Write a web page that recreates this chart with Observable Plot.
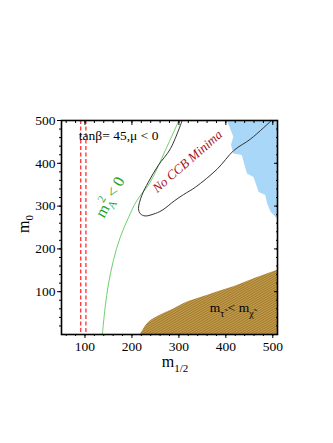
<!DOCTYPE html>
<html><head><meta charset="utf-8">
<script src="https://cdn.jsdelivr.net/npm/d3@7"></script>
<script src="https://cdn.jsdelivr.net/npm/@observablehq/plot@0.6"></script>
<style>body{margin:0;background:#fff}</style>
</head><body><div id="chart"></div>
<script>
// axes
const xDomain = [50, 510];
const yDomain = [0, 500];
const xTicks = [100, 200, 300, 400, 500];
const yTicks = [100, 200, 300, 400, 500];
const xMinor = d3.range(60, 501, 20);
const yMinor = d3.range(20, 501, 20);
// limits (red dashed)
const limitX = [91, 102];
// m_A^2 < 0 boundary (green)
const mA2X = [137, 143, 150, 160.5, 175, 193, 210.5, 239, 271, 300];
const mA2Y = [0, 64, 118, 173, 227, 274, 313, 356, 430, 500];
// No CCB minima contour (black)
const ccbX = [307, 282, 256, 235, 221, 214, 218, 228, 245, 264, 290, 310, 335, 382, 417, 453, 497];
const ccbY = [500, 434, 395, 356, 325, 294, 282, 277, 281, 290, 312, 327, 344, 387, 430, 457, 500];
// blue excluded region (boundary, extends to right edge)
const blueY = [500, 461, 442, 422, 418, 375, 367, 332, 325, 305, 286, 270];
const blueX = [403, 417, 412, 417, 435, 446, 460, 471, 485, 489, 496, 510];
// stau LSP region (brown)
const stauX = [218, 221, 225, 230, 240, 255, 270, 290, 310, 340, 380, 420, 460, 510];
const stauY = [0, 5, 13, 21, 32, 42, 50, 60, 72, 84, 99, 113, 130, 150];

const xMax = xDomain[1], yMin = yDomain[0];
const blue = blueY.map((y, i) => ({y, x1: blueX[i], x2: xMax}));
const stau = stauX.map((x, i) => ({x, y1: yMin, y2: stauY[i]}));
const mA2 = mA2X.map((x, i) => ({x, y: mA2Y[i]}));
const ccb = ccbX.map((x, i) => ({x, y: ccbY[i]}));

const chart = Plot.plot({
  width: 333, height: 443,
  marginLeft: 61, marginRight: 56, marginTop: 120, marginBottom: 109,
  style: {fontFamily: "'Liberation Serif', serif", fontSize: "13.5px", background: "#fff", color: "#000"},
  x: {domain: xDomain, label: null},
  y: {domain: yDomain, label: null},
  marks: [
    Plot.areaX(blue, {y: "y", x1: "x1", x2: "x2", fill: "#a9d7f8"}),
    Plot.areaY(stau, {x: "x", y1: "y1", y2: "y2", fill: "url(#hatch)", curve: "monotone-x"}),
    Plot.ruleX(limitX, {stroke: "#ff1f1f", strokeWidth: 1.2, strokeDasharray: "4,2.5"}),
    Plot.line(mA2, {x: "x", y: "y", stroke: "#6fce6f", strokeWidth: 1, curve: "catmull-rom"}),
    Plot.line(ccb, {x: "x", y: "y", stroke: "#333", strokeWidth: 1, curve: "catmull-rom"}),
    Plot.axisY(yTicks, {anchor: "left", tickSize: 4, tickPadding: 2, label: null}),
    Plot.axisY(yMinor, {anchor: "left", tickSize: 2, text: null, label: null}),
    Plot.axisY(yTicks, {anchor: "right", tickSize: -4, text: null, label: null}),
    Plot.axisY(yMinor, {anchor: "right", tickSize: -2, text: null, label: null}),
    Plot.axisX(xTicks, {anchor: "bottom", tickSize: 4, tickPadding: 3, label: null}),
    Plot.axisX(xMinor, {anchor: "bottom", tickSize: 2, text: null, label: null}),
    Plot.axisX(xTicks, {anchor: "top", tickSize: -4, text: null, label: null}),
    Plot.axisX(xMinor, {anchor: "top", tickSize: -2, text: null, label: null}),
    Plot.frame({stroke: "#000", strokeWidth: 1.6})
  ]
});
document.getElementById("chart").appendChild(chart);

const svg = d3.select(chart);
const defs = svg.insert("defs", ":first-child");
const pat = defs.append("pattern").attr("id", "hatch").attr("patternUnits", "userSpaceOnUse")
  .attr("width", 2).attr("height", 2).attr("patternTransform", "rotate(-30)");
pat.append("rect").attr("width", 2).attr("height", 2).attr("fill", "#c6a04a");
pat.append("rect").attr("width", 2).attr("height", 0.9).attr("fill", "#9c7430");

const sx = chart.scale("x"), sy = chart.scale("y");
const g = svg.append("g").attr("font-family", "'Liberation Serif', serif");

// annotation positions in data units
const tanLabelAt = [88, 453];
const greenLabelAt = [164, 314];
const ccbLabelAt = [325, 396];
const stauLabelAt = [367, 51];

g.append("text").attr("text-anchor", "start").attr("x", sx.apply(tanLabelAt[0])).attr("y", sy.apply(tanLabelAt[1]))
  .attr("font-size", 13.5).text("tan\u03B2= 45,\u03BC < 0");

const gt = g.append("text").attr("fill", "#22a022").attr("font-size", 16).attr("text-anchor", "middle")
  .attr("transform", `translate(${sx.apply(greenLabelAt[0])},${sy.apply(greenLabelAt[1])}) rotate(-61)`);
gt.append("tspan").text("m");
gt.append("tspan").attr("font-size", 11).attr("dy", 4).text("A");
gt.append("tspan").attr("font-size", 11).attr("dx", -7).attr("dy", -12).text("2");
gt.append("tspan").attr("dy", 8).text(" < 0");

g.append("text").attr("fill", "#a3121b").attr("font-size", 13).attr("font-style", "italic")
  .attr("text-anchor", "middle")
  .attr("transform", `translate(${sx.apply(ccbLabelAt[0])},${sy.apply(ccbLabelAt[1])}) rotate(-41)`)
  .text("No CCB Minima");

const st = g.append("text").attr("text-anchor", "start").attr("font-size", 13.5)
  .attr("x", sx.apply(stauLabelAt[0])).attr("y", sy.apply(stauLabelAt[1]));
st.append("tspan").text("m");
st.append("tspan").attr("font-size", 10).attr("dy", 5).text("\u03C4\u0303");
st.append("tspan").attr("dy", -5).text(" < m");
st.append("tspan").attr("font-size", 10).attr("dy", 5).text("\u03C7\u0303");

// axis titles
const yl = g.append("text").attr("font-size", 16).attr("text-anchor", "middle")
  .attr("transform", "translate(29,224) rotate(-90)");
yl.append("tspan").text("m");
yl.append("tspan").attr("font-size", 11).attr("dy", 4).text("0");

const xl = g.append("text").attr("font-size", 16).attr("text-anchor", "middle")
  .attr("x", 175).attr("y", 367);
xl.append("tspan").text("m");
xl.append("tspan").attr("font-size", 11).attr("dy", 5).text("1/2");
</script>
</body></html>
